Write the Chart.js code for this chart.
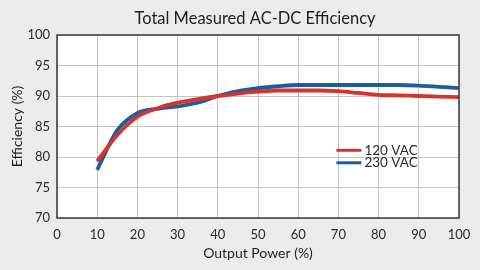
<!DOCTYPE html>
<html><head><meta charset="utf-8">
<script src="https://cdn.jsdelivr.net/npm/chart.js@4.4.0/dist/chart.umd.min.js"></script>
<style>html,body{margin:0;padding:0;background:#ebebeb;}#wrap{width:480px;height:270px;}</style>
</head><body><div id="wrap"><canvas id="c" width="480" height="270"></canvas></div>
<script>
const outputPower = [10,15,20,25,30,35,40,45,50,55,60,65,70,75,80,85,90,95,100];
const eff120 = [79.3,83.6,86.6,88.0,88.9,89.5,90.0,90.4,90.7,90.9,90.9,90.9,90.8,90.5,90.2,90.1,90.0,89.9,89.8];
const eff230 = [77.9,84.4,87.2,87.9,88.3,88.9,90.0,90.8,91.3,91.6,91.8,91.8,91.8,91.8,91.8,91.8,91.7,91.5,91.3];
const seriesLabels = ['120 VAC','230 VAC'];
const titleText = 'Total Measured AC-DC Efficiency';
const xTitle = 'Output Power (%)';
const yTitle = 'Efficiency (%)';

const FONT = 'Lato, "DejaVu Sans", sans-serif';
const plotBg = {
  id:'plotBg',
  beforeDraw(chart){
    const {ctx, chartArea:a} = chart;
    ctx.save();
    ctx.fillStyle='#ffffff';
    ctx.fillRect(a.left,a.top,a.right-a.left,a.bottom-a.top);
    ctx.restore();
  },
  afterDraw(chart){
    const {ctx, chartArea:a} = chart;
    ctx.save();
    ctx.fillStyle='#1e1e1e';
    ctx.font='16.5px ' + FONT;
    ctx.textAlign='center'; ctx.textBaseline='middle';
    ctx.fillText(titleText, (a.left+a.right)/2 - 3, a.top - 16);
    ctx.restore();
  },
  afterDatasetsDraw(chart){
    const {ctx, chartArea:a} = chart;
    ctx.save();
    ctx.strokeStyle='#3a3a3a';
    ctx.lineWidth=1.5;
    ctx.strokeRect(a.left,a.top,a.right-a.left,a.bottom-a.top);
    // legend
    const ds = chart.data.datasets;
    const x0 = a.left + (a.right-a.left)*0.695;
    const y0 = a.top + (a.bottom-a.top)*0.63;
    ctx.font = '13.5px ' + FONT;
    ctx.textBaseline='middle';
    ds.forEach((d,i)=>{
      const y = y0 + i*12.5;
      ctx.strokeStyle=d.borderColor; ctx.lineWidth=3;
      ctx.beginPath(); ctx.moveTo(x0,y); ctx.lineTo(x0+25,y); ctx.stroke();
      ctx.fillStyle='#2a2a2a';
      ctx.fillText(d.label, x0+28, y);
    });
    ctx.restore();
  }
};

new Chart(document.getElementById('c'), {
  type:'line',
  data:{
    datasets:[
      {label:seriesLabels[0], data:outputPower.map((x,i)=>({x, y:eff120[i]})), borderColor:'#d8322c', borderWidth:3.8, pointRadius:0, cubicInterpolationMode:'monotone', fill:false},
      {label:seriesLabels[1], data:outputPower.map((x,i)=>({x, y:eff230[i]})), borderColor:'#1e5c9e', borderWidth:3.8, pointRadius:0, cubicInterpolationMode:'monotone', fill:false}
    ]
  },
  options:{
    responsive:false, animation:false, devicePixelRatio:1,
    layout:{padding:{left:4,right:21,top:35,bottom:4}},
    plugins:{
      legend:{display:false},
      tooltip:{enabled:false},
      title:{display:false}
    },
    scales:{
      x:{type:'linear', min:0, max:100,
        ticks:{stepSize:10, color:'#2a2a2a', font:{family:FONT,size:13}, padding:9, maxRotation:0},
        grid:{color:'#c4c4c4', lineWidth:1, drawTicks:false},
        border:{display:false},
        title:{display:true, text:xTitle, color:'#1e1e1e', font:{family:FONT,size:14}, padding:{top:4.5,bottom:4.5}},
        afterFit(s){ s.height = 48; }
      },
      y:{min:70, max:100,
        ticks:{stepSize:5, color:'#2a2a2a', font:{family:FONT,size:13}, padding:7},
        grid:{color:'#c4c4c4', lineWidth:1, drawTicks:false},
        border:{display:false},
        title:{display:true, text:yTitle, color:'#1e1e1e', font:{family:FONT,size:14}, padding:{top:5.5,bottom:5.5}},
        afterFit(s){ s.width = 53; }
      }
    }
  },
  plugins:[plotBg]
});
</script></body></html>
